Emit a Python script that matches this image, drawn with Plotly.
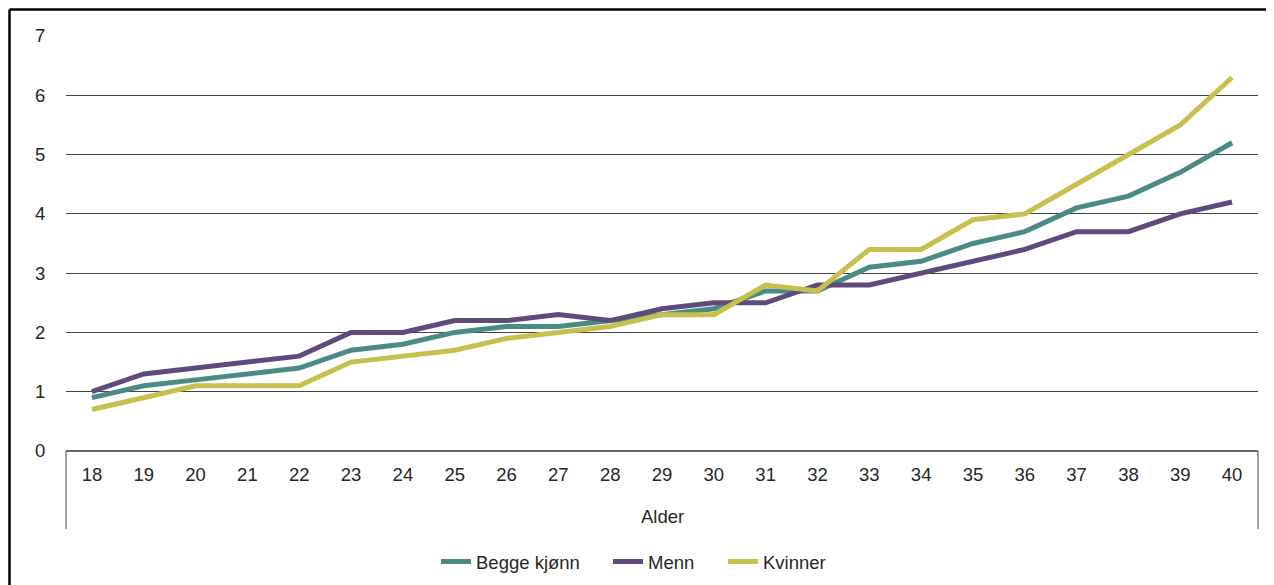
import plotly.graph_objects as go

ages = list(range(18, 41))
begge = [0.9, 1.1, 1.2, 1.3, 1.4, 1.7, 1.8, 2.0, 2.1, 2.1, 2.2, 2.3, 2.4, 2.7, 2.7, 3.1, 3.2, 3.5, 3.7, 4.1, 4.3, 4.7, 5.2]
menn = [1.0, 1.3, 1.4, 1.5, 1.6, 2.0, 2.0, 2.2, 2.2, 2.3, 2.2, 2.4, 2.5, 2.5, 2.8, 2.8, 3.0, 3.2, 3.4, 3.7, 3.7, 4.0, 4.2]
kvinner = [0.7, 0.9, 1.1, 1.1, 1.1, 1.5, 1.6, 1.7, 1.9, 2.0, 2.1, 2.3, 2.3, 2.8, 2.7, 3.4, 3.4, 3.9, 4.0, 4.5, 5.0, 5.5, 6.3]

series = [("Begge kjønn", begge, "#4A8C84", "legend"),
          ("Menn", menn, "#5F4B7B", "legend2"),
          ("Kvinner", kvinner, "#C6C04E", "legend3")]

fig = go.Figure()
for name, vals, col, lg in series:
    fig.add_trace(go.Scatter(x=ages, y=vals, name=name, mode="lines", legend=lg,
                             line=dict(color=col, width=5)))

FONT = "Liberation Sans, Arial, sans-serif"
TXT = "#262626"

def leg(xpx):
    return dict(orientation="h", xref="container", yref="container",
                x=xpx / 1274, xanchor="left", y=0.053, yanchor="middle",
                font=dict(size=18.5, color=TXT), bgcolor="rgba(0,0,0,0)", borderwidth=0)

fig.update_layout(
    width=1274, height=585,
    margin=dict(l=58, r=24, t=28, b=142),
    paper_bgcolor="white", plot_bgcolor="white",
    font=dict(family=FONT, size=18.5, color=TXT),
    showlegend=True,
    legend=leg(428), legend2=leg(600), legend3=leg(715),
    xaxis=dict(range=[17.5, 40.5], tickmode="array", tickvals=ages, ticktext=[str(a) for a in ages],
               showgrid=False, zeroline=False, showline=False,
               ticks="outside", ticklen=7, tickcolor="rgba(0,0,0,0)", fixedrange=True),
    yaxis=dict(range=[0, 7], dtick=1, showgrid=True, gridcolor="#444", gridwidth=1,
               zeroline=False, showline=False, ticks="outside", ticklen=16,
               tickcolor="rgba(0,0,0,0)", fixedrange=True),
    annotations=[dict(text="Alder", xref="paper", yref="paper", x=0.5, y=-0.157,
                      showarrow=False, font=dict(size=18.5, color=TXT),
                      xanchor="center", yanchor="middle")],
    shapes=[
        dict(type="line", xref="paper", yref="paper", x0=0, x1=1, y0=0, y1=0,
             line=dict(color="#333", width=1.5), layer="below"),
        dict(type="line", xref="paper", yref="paper", x0=0, x1=0, y0=0, y1=-0.188,
             line=dict(color="#444", width=1)),
        dict(type="line", xref="paper", yref="paper", x0=1, x1=1, y0=0, y1=-0.188,
             line=dict(color="#444", width=1)),
        dict(type="line", xref="paper", yref="paper", x0=-0.0474, x1=1.1, y0=1.0639, y1=1.0639,
             line=dict(color="black", width=2.5)),
        dict(type="line", xref="paper", yref="paper", x0=-0.0474, x1=-0.0474, y0=1.0639, y1=-0.5,
             line=dict(color="black", width=2.5)),
    ],
)

fig.write_html("out.html")
